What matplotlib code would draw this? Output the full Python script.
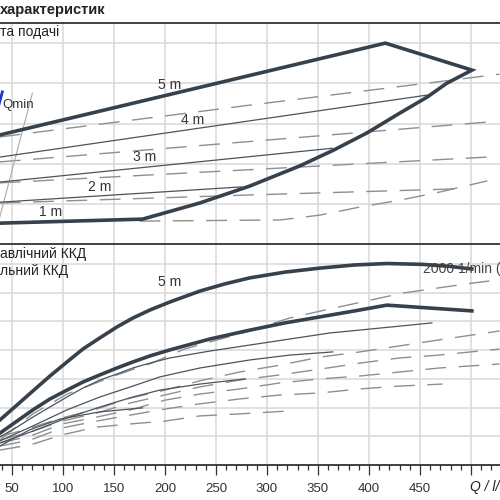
import matplotlib
matplotlib.use("Agg")
import matplotlib.pyplot as plt
from matplotlib.ticker import MultipleLocator

plt.rcParams['font.family'] = ['Liberation Sans', 'DejaVu Sans']

# ---------- upper panel: head ----------
# thick outline of the working range
env_q = [38, 416, 501, 476, 457, 430, 398, 365, 332, 283, 234, 178, 38]
env_h = [2.72, 5.00, 4.33, 4.00, 3.66, 3.26, 2.77, 2.34, 1.95, 1.45, 1.03, 0.63, 0.53]

# thin solid head lines
h4_q = [38, 457]
h4_h = [2.17, 3.71]
h3_q = [38, 364]
h3_h = [1.55, 2.39]
h2_q = [38, 275]
h2_h = [1.05, 1.43]

# dashed head lines
hdA_q = [38, 283, 528]
hdA_h = [2.67, 3.46, 4.23]
hdB_q = [38, 516]
hdB_h = [2.05, 3.04]
hdC_q = [38, 516]
hdC_h = [1.53, 2.17]
hdD_q = [38, 283, 484]
hdD_h = [1.03, 1.23, 1.38]
hdE_q = [175, 313, 352, 391, 430, 469, 516]
hdE_h = [0.58, 0.61, 0.73, 0.93, 1.10, 1.30, 1.58]

# Qmin line
qmin_q = [70, 38, 31]
qmin_h = [3.76, 0.68, 0.0]

head_labels = ["5 m", "4 m", "3 m", "2 m", "1 m"]
head_label_q = [205, 227, 180, 136, 88]
head_label_h = [3.96, 3.09, 2.17, 1.43, 0.81]

# ---------- lower panel: efficiency ----------
e5_q = [38.2, 54.9, 70.5, 87.2, 103.9, 119.5, 136.2, 152.9, 168.5, 185.2, 204.8,
        234.2, 258.7, 283.2, 317.5, 351.8, 386.1, 417.5, 452.7, 479.2, 500.8]
e5_e = [15.7, 20.9, 25.8, 31.0, 35.9, 40.4, 44.3, 48.1, 51.2, 54.0, 56.8,
        60.6, 63.1, 65.2, 67.2, 68.6, 69.7, 70.2, 69.9, 69.2, 68.3]
eA_q = [38.2, 54.9, 70.5, 87.2, 103.9, 119.5, 136.2, 152.9, 168.5, 185.2, 204.8,
        244.0, 283.2, 317.5, 351.8, 386.1, 417.5, 500.8]
eA_e = [11.1, 15.3, 19.2, 23.0, 26.1, 28.9, 31.4, 33.8, 35.9, 38.0, 40.1,
        43.9, 47.0, 49.5, 51.6, 53.7, 55.7, 53.7]

tb_q = [38.2, 54.9, 70.5, 87.2, 103.9, 119.5, 136.2, 152.9, 168.5, 185.2, 204.8,
        244.0, 283.2, 322.4, 361.6, 410.6, 461.6]
tb_e = [9.8, 13.2, 16.7, 20.2, 23.7, 26.8, 29.6, 31.7, 33.8, 35.5, 37.3,
        39.7, 41.8, 43.9, 46.0, 47.7, 49.5]
tc_q = [38.2, 70.5, 103.9, 136.2, 168.5, 195.0, 234.2, 283.2, 322.4, 364.5]
tc_e = [8.4, 13.6, 19.2, 23.7, 27.5, 30.7, 33.8, 36.6, 38.3, 39.4]
td_q = [38.2, 70.5, 103.9, 136.2, 168.5, 195.0, 234.2, 278.3]
td_e = [7.7, 11.8, 16.4, 20.2, 23.7, 26.1, 28.2, 30.0]
te_q = [38, 67, 97, 136, 178]
te_e = [6.6, 12.2, 16.0, 18.5, 19.9]

edt_q = [38, 70, 104, 153, 187, 219, 283, 322, 357, 397, 433, 468, 502, 518]
edt_e = [8.7, 17.7, 24.7, 31.4, 35.5, 40.4, 46.7, 51.2, 54.0, 57.1, 59.9, 61.7, 63.4, 64.1]
ed_q = [38, 68, 99, 133, 166, 200, 234, 273, 313, 352, 391, 430, 469, 528]
ed2_e = [9.8, 12.9, 16.4, 19.5, 23.3, 26.1, 29.3, 32.4, 34.8, 37.6, 39.4, 41.5, 43.6, 46.7]
ed3_e = [8.7, 11.5, 15.3, 18.1, 21.6, 24.4, 27.2, 29.6, 31.4, 33.4, 35.5, 37.3, 38.3, 40.4]
ed4_e = [7.7, 10.1, 14.3, 16.7, 19.2, 22.6, 24.7, 26.5, 28.6, 30.0, 31.0, 32.4, 33.8, 35.2]
ed5_q = [38, 68, 99, 133, 166, 200, 234, 273, 313, 352, 391, 430, 472]
ed5_e = [6.6, 8.7, 12.9, 15.3, 17.4, 19.5, 21.3, 23.0, 24.4, 25.1, 26.5, 27.5, 28.2]
ed6_q = [38, 68, 99, 133, 166, 200, 234, 273, 320]
ed6_e = [5.2, 7.0, 10.5, 13.2, 14.3, 15.3, 17.1, 17.8, 18.8]

x_ticks = [50, 100, 150, 200, 250, 300, 350, 400, 450, 500]
x_tick_labels = ["50", "100", "150", "200", "250", "300", "350", "400", "450", ""]

THICK = "#37414b"
THIN = "#4b545e"
DASH = "#8f8f8f"
GRID = "#d9d9d9"
DASHES = (15, 9)

fig = plt.figure(figsize=(5, 5), dpi=100)
ax1 = fig.add_axes([-0.078, 0.511, 1.1016, 0.443])
ax2 = fig.add_axes([-0.078, 0.07, 1.1016, 0.442])

for ax in (ax1, ax2):
    ax.set_xlim(0, 540)
    ax.set_xticks(x_ticks)
    ax.grid(True, color=GRID, linewidth=1.1)
    ax.set_axisbelow(True)
    for s in ("left", "right"):
        ax.spines[s].set_visible(False)
    ax.spines["top"].set_color("#333333")
    ax.spines["top"].set_linewidth(1.3)
    ax.tick_params(axis="y", left=False, labelleft=False)

ax1.set_ylim(0, 5.5)
ax1.set_yticks([1, 2, 3, 4, 5])
ax1.spines["bottom"].set_visible(False)
ax1.tick_params(axis="x", bottom=False, labelbottom=False)

ax2.set_ylim(0, 77)
ax2.set_yticks([10, 20, 30, 40, 50, 60, 70])
ax2.spines["bottom"].set_color("#333333")
ax2.spines["bottom"].set_linewidth(1.3)
ax2.set_xticklabels(x_tick_labels, fontsize=9.5, color="#333333")
ax2.xaxis.set_minor_locator(MultipleLocator(10))
ax2.tick_params(axis="x", which="major", direction="out", length=7.5, width=0.9, color="#333333", pad=5.5)
ax2.tick_params(axis="x", which="minor", direction="out", length=3.5, width=0.9, color="#333333")

# upper panel
for q, h in [(hdA_q, hdA_h), (hdB_q, hdB_h), (hdC_q, hdC_h), (hdD_q, hdD_h), (hdE_q, hdE_h)]:
    ax1.plot(q, h, color=DASH, linewidth=1.0, dashes=DASHES)
ax1.plot(qmin_q, qmin_h, color="#aaaaaa", linewidth=0.8)
for q, h in [(h4_q, h4_h), (h3_q, h3_h), (h2_q, h2_h)]:
    ax1.plot(q, h, color=THIN, linewidth=0.9)
ax1.plot(env_q, env_h, color=THICK, linewidth=2.6, solid_joinstyle="miter")
ax1.plot([37.5, 40.5], [3.50, 3.79], color="#2233cc", linewidth=2.0)
ax1.text(41, 3.46, "Qmin", fontsize=9.5, color="#333333", va="center", ha="left")
for lab, q, h in zip(head_labels, head_label_q, head_label_h):
    ax1.text(q, h, lab, fontsize=10, color="#333333", ha="center", va="center")

# lower panel
for q, e in [(edt_q, edt_e), (ed_q, ed2_e), (ed_q, ed3_e), (ed_q, ed4_e), (ed5_q, ed5_e), (ed6_q, ed6_e)]:
    ax2.plot(q, e, color=DASH, linewidth=1.0, dashes=DASHES)
for q, e in [(tb_q, tb_e), (tc_q, tc_e), (td_q, td_e), (te_q, te_e)]:
    ax2.plot(q, e, color=THIN, linewidth=0.9)
ax2.text(453, 68.4, "2000 1/min (", fontsize=10, color="#444444", ha="left", va="center")
ax2.plot(e5_q, e5_e, color=THICK, linewidth=2.6)
ax2.plot(eA_q, eA_e, color=THICK, linewidth=2.6)
ax2.text(205, 63.8, "5 m", fontsize=10, color="#333333", ha="center", va="center")

# texts around the panels
fig.text(0.0, 1 - 10 / 500, "характеристик", fontsize=10.5, fontweight="bold", color="#222222", va="center")
fig.text(0.0, 1 - 32 / 500, "та подачі", fontsize=10, color="#222222", va="center")
fig.text(0.0, 1 - 254 / 500, "авлічний ККД", fontsize=10, color="#222222", va="center")
fig.text(0.0, 1 - 271 / 500, "льний ККД", fontsize=10, color="#222222", va="center")
fig.text(470 / 500, 1 - 487 / 500, "Q / l/", fontsize=10, style="italic", color="#222222", va="center")

fig.savefig("out.png", dpi=100)
